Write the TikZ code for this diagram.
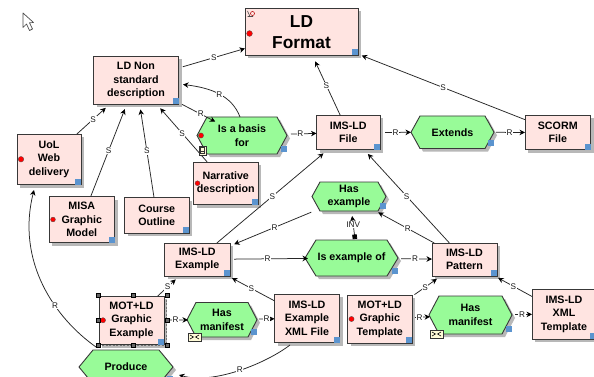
\documentclass[tikz,border=0pt]{standalone}
\usepackage{fontspec}
\setmainfont{Liberation Sans}
\usetikzlibrary{arrows.meta}
\definecolor{boxc}{HTML}{FFE4E1}
\definecolor{hexc}{HTML}{98FB98}
\definecolor{shc}{HTML}{B8B8B8}
\definecolor{edgec}{HTML}{383838}
\definecolor{bluec}{HTML}{5B94CF}
\definecolor{iconc}{HTML}{FFFBD8}
\tikzset{
  nodetxt/.style={align=center,inner sep=0pt,outer sep=0pt,font=\fontsize{10.7}{13.5}\selectfont\bfseries},
  bignode/.style={font=\fontsize{17.3}{21}\selectfont\bfseries},
  conn/.style={draw=black!85,line width=.75pt,-{Stealth[length=5.5pt,width=5.5pt,color=black]}},
  lab/.style={fill=white,inner sep=.6pt,font=\fontsize{8.2}{9}\selectfont,text=black!90},
  handle/.style={fill=black!60,draw=black,line width=.4pt},
  bluesq/.style={fill=bluec},
  reddot/.style={fill=red,draw=black!70,line width=.3pt}
}
% box: [opts] name x0 y0 x1 y1 (text in \bxtext)
\newcommand\bx[6][]{%
  \pgfmathsetmacro\bw{#5-#3}\pgfmathsetmacro\bh{#6-#4}%
  \pgfmathsetmacro\cx{(#3+#5)/2}\pgfmathsetmacro\cy{(#4+#6)/2}%
  \fill[shc] ({#3+3},{#4+3}) rectangle ({#5+3},{#6+3});
  \node[nodetxt,draw=edgec,line width=.9pt,fill=boxc,minimum width=\bw pt,minimum height=\bh pt,#1] (#2) at (\cx,\cy) {\bxtext};
  \fill[bluesq] ([xshift=-6pt]#2.south east) rectangle ([yshift=6pt]#2.south east);
}
\newcommand\bxtext{}
\newcommand\mkbx[7][]{\renewcommand\bxtext{#7}\bx[#1]{#2}{#3}{#4}{#5}{#6}}
% hexagon: name x0 y0 x1 y1 inset text
\newcommand\hx[7]{%
  \pgfmathsetmacro\bw{#4-#2}\pgfmathsetmacro\bh{#5-#3}%
  \pgfmathsetmacro\cx{(#2+#4)/2}\pgfmathsetmacro\cy{(#3+#5)/2}%
  \fill[shc] ({#2+#6+3},{#3+3}) -- ({#4-#6+3},{#3+3}) -- ({#4+3},{\cy+3}) -- ({#4-#6+3},{#5+3}) -- ({#2+#6+3},{#5+3}) -- ({#2+3},{\cy+3}) -- cycle;
  \draw[edgec,line width=.9pt,fill=hexc] ({#2+#6},#3) -- ({#4-#6},#3) -- (#4,\cy) -- ({#4-#6},#5) -- ({#2+#6},#5) -- (#2,\cy) -- cycle;
  \node[nodetxt,minimum width=\bw pt,minimum height=\bh pt] (#1) at (\cx,\cy) {#7};
  \fill[bluesq] ([yshift=2.5pt,xshift=-6pt]#1.south east) rectangle ([yshift=8.5pt]#1.south east);
}
\newcommand\rdot[2][2.8]{\fill[reddot] ([xshift=4pt]#2.west) circle (#1pt);}
% straight connector: from to label pos startgap endgap
\newcommand\conn[6]{\path[conn,shorten <=#5pt,shorten >=#6pt] (#1) -- node[lab,pos=#4] {#3} (#2);}
% envelope icon
\newcommand\envelope[1]{%
  \draw[black!80,fill=iconc,line width=.5pt] ([xshift=1pt,yshift=-4pt]#1.south west) rectangle ([xshift=14pt,yshift=4pt]#1.south west);
  \draw[black,line width=.6pt] ([xshift=3pt,yshift=2pt]#1.south west) -- ([xshift=6.5pt]#1.south west) -- ([xshift=3pt,yshift=-2pt]#1.south west)
    ([xshift=12pt,yshift=2pt]#1.south west) -- ([xshift=8.5pt]#1.south west) -- ([xshift=12pt,yshift=-2pt]#1.south west);
}
\begin{document}
\begin{tikzpicture}[x=1pt,y=-1pt]
\useasboundingbox (0,0) rectangle (594,377);
\clip (0,0) rectangle (594,377);
\fill[white] (0,0) rectangle (594,377);

% mouse cursor
\draw[black!70,fill=white,line width=.7pt,line join=round] (23,13) -- (23,27.5) -- (26.5,24) -- (29.5,30.5) -- (32.5,29) -- (29.5,22.8) -- (33.5,22.5) -- cycle;

% boxes
\mkbx[bignode]{fmt}{245}{8.5}{358}{55.5}{LD\\Format}
\mkbx{nonstd}{93.5}{56.5}{178.5}{104.5}{LD Non\\standard\\description}
\mkbx{uol}{17}{134}{81}{184.5}{UoL\\Web\\delivery}
\mkbx{misa}{49}{196.5}{114.5}{242.5}{MISA\\Graphic\\Model}
\mkbx{course}{124.5}{197.5}{189}{233}{Course\\Outline}
\mkbx{narr}{193.5}{162}{258}{204.5}{Narrative\\description}
\mkbx{file}{316.5}{115.5}{380}{149.5}{IMS-LD\\File}
\mkbx{scorm}{525}{115.5}{590.5}{149.5}{SCORM\\File}
\mkbx{example}{164.5}{243}{230}{276}{IMS-LD\\Example}
\mkbx{pattern}{432}{243}{497}{276}{IMS-LD\\Pattern}
\mkbx{motex}{99}{296}{164}{344.5}{MOT+LD\\Graphic\\Example}
\mkbx{xmlfile}{274.5}{294}{339.5}{342.5}{IMS-LD\\Example\\XML File}
\mkbx{mottpl}{347.5}{295}{412}{343}{MOT+LD\\Graphic\\Template}
\mkbx{xmltpl}{532}{289}{596}{339}{IMS-LD\\XML\\Template}

% hexagons
\hx{basis}{197}{117}{287}{154}{10}{Is a basis\\for}
\hx{extends}{411}{116}{494}{148.5}{9}{Extends}
\hx{hasex}{312}{182}{386}{211}{8}{Has\\example}
\hx{isex}{305}{240}{398}{276}{11}{Is example of}
\hx{man1}{187}{302.5}{257}{337}{9}{Has\\manifest}
\hx{man2}{429}{296}{512}{334}{10}{Has\\manifest}
\hx{produce}{79}{350}{173}{384}{14}{Produce}

% red dots
\fill[reddot] ([xshift=4.5pt,yshift=-1.5pt]fmt.west) circle (2.9pt);
\rdot{uol}
\rdot[2.4]{misa}
\rdot[2.5]{narr}
\rdot[2.6]{basis}
\rdot[2.6]{motex}
\rdot[2.6]{mottpl}

% straight connectors
\conn{nonstd}{fmt}{S}{.53}{4.5}{0}
\conn{nonstd}{basis}{R}{.8}{4}{-10}
\conn{uol}{nonstd}{S}{.5}{0}{5}
\conn{misa}{nonstd}{S}{.5}{0}{5}
\conn{course}{nonstd}{S}{.5}{0}{5}
\conn{narr}{nonstd}{S}{.5}{0}{5}
\conn{file}{fmt}{S}{.5}{0}{6.5}
\conn{scorm}{fmt}{S}{.49}{0}{4}
\conn{basis}{file}{R}{.45}{4}{0}
\conn{file}{extends}{R}{.5}{5}{0}
\conn{extends}{scorm}{R}{.5}{2}{0}
\conn{example}{file}{S}{.5}{0}{6}
\conn{hasex}{example}{R}{.47}{3}{4.5}
\conn{pattern}{hasex}{R}{.45}{0}{3}
\conn{pattern}{file}{S}{.5}{0}{6}
\conn{example}{isex}{R}{.5}{4}{-3}
\conn{isex}{pattern}{R}{.5}{3}{0}
\conn{motex}{example}{S}{.45}{0}{5}
\conn{xmlfile}{example}{S}{.5}{0}{4.5}
\conn{motex}{man1}{R}{.5}{3}{-1}
\conn{man1}{xmlfile}{R}{.55}{2}{0}
\conn{mottpl}{pattern}{S}{.45}{3}{5}
\conn{mottpl}{man2}{R}{.45}{3}{-1}
\conn{man2}{xmltpl}{R}{.5}{3}{0}
\conn{xmltpl}{pattern}{S}{.5}{0}{4}

% INV link
\path[conn,{Square[length=4.5pt,width=4.5pt,color=black]}-{Stealth[length=5.5pt,width=5.5pt,color=black]},shorten >=5pt] ([xshift=3.5pt,yshift=1pt]isex.north) -- node[lab,pos=.5] {INV} ([xshift=2.5pt]hasex.south);

% curved connectors
\path[conn] ([xshift=-2pt]basis.north) .. controls (232,96) and (212,88) .. node[lab,pos=.5] {R} ([xshift=4.5pt,yshift=-4pt]nonstd.east);
\path[conn] ([xshift=-30pt,yshift=3pt]produce.north) .. controls (55,318) and (16,262) .. node[lab,pos=.36] {R} ([xshift=-15pt,yshift=-5.5pt]uol.south);
\path[conn] ([xshift=-17pt,yshift=-2.5pt]xmlfile.south) .. controls (268,362) and (215,385) .. node[lab,pos=.5] {R} ([xshift=6pt,yshift=-8pt]produce.east);

% small icons
\envelope{man1}
\envelope{man2}
\draw[black!80,fill=iconc,line width=.5pt] ([xshift=2pt,yshift=-1pt]basis.south west) rectangle ([xshift=9pt,yshift=8pt]basis.south west);
\draw[black!80,line width=.5pt] ([xshift=3.5pt,yshift=3pt]basis.south west) rectangle ([xshift=7.5pt,yshift=6.5pt]basis.south west)
  ([xshift=3.5pt,yshift=.5pt]basis.south west) rectangle ([xshift=7.5pt,yshift=3pt]basis.south west);
\draw[black!70,line width=.6pt] ([xshift=2.5pt,yshift=-2.5pt]fmt.north west) -- ([xshift=5pt,yshift=-8pt]fmt.north west) ([xshift=2.5pt,yshift=-8pt]fmt.north west) -- ([xshift=8pt,yshift=-8pt]fmt.north west);
\draw[red!70!black,line width=.5pt] ([xshift=7.5pt,yshift=-5pt]fmt.north west) circle (2pt);

% selection frame
\draw[black!55,line width=1.2pt,dash pattern=on 2pt off 1.5pt] (166.5,296) -- (166.5,345.5) -- (99,345.5);
\foreach \hxy in {(98.5,295.5),(133.5,295.5),(167.5,295.5),(98.5,320.5),(167.5,320.5),(98.5,345.5),(133.5,345.5),(167.5,345.5)}
  \fill[handle] \hxy ++(-2,-2) rectangle ++(4,4);
\end{tikzpicture}
\end{document}
